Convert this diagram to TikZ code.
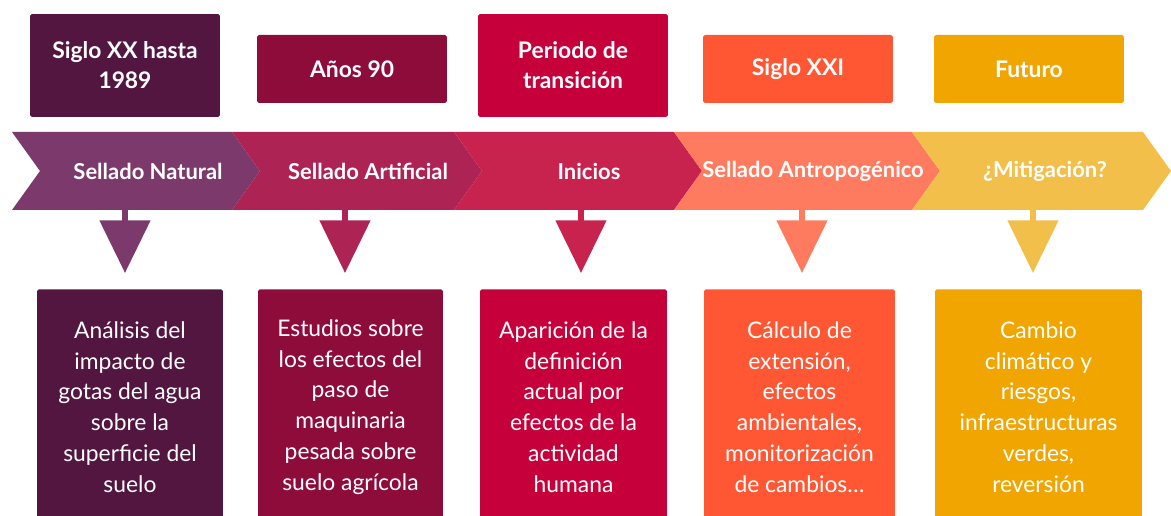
\documentclass[tikz,border=0pt]{standalone}
\usepackage{fontspec}
\setmainfont{Lato}
\usepackage{xcolor}
\usetikzlibrary{arrows.meta}
\definecolor{darkA}{HTML}{521641}
\definecolor{darkB}{HTML}{8E0C3A}
\definecolor{darkC}{HTML}{C5003A}
\definecolor{darkD}{HTML}{FF5733}
\definecolor{darkE}{HTML}{F0A500}
\definecolor{lightA}{HTML}{7B3A6B}
\definecolor{lightB}{HTML}{AD2354}
\definecolor{lightC}{HTML}{C8234F}
\definecolor{lightD}{HTML}{FF7B5F}
\definecolor{lightE}{HTML}{F2BF4B}
\tikzset{
    period/.style={rectangle, rounded corners=1pt, text=white, align=center, inner sep=0pt, minimum width=3.8cm, minimum height=1.36cm, font=\bfseries\fontsize{13}{17}\selectfont},
    longperiod/.style={period, minimum height=2.06cm},
    stage/.style={rectangle, text=white, inner sep=0pt, minimum height=1.56cm, font=\bfseries\fontsize{12.5}{15}\selectfont},
    detail/.style={rectangle, rounded corners=1pt, anchor=north, text=white, align=center, inner sep=0pt, minimum height=4.7cm, font=\fontsize{13}{17.5}\selectfont},
    pointer/.style={line width=3.4pt, -{Triangle[length=30pt, width=28.3pt]}},
}

\begin{document}
\begin{tikzpicture}[x=0.02cm, y=-0.02cm]
\useasboundingbox (0,0) rectangle (1171,516);

% Period boxes
\node[longperiod, fill=darkA] (siglo20) at (125, 65.5) {Siglo XX hasta\\1989};
\node[period, fill=darkB] (anos90) at (352, 69) {Años 90};
\node[longperiod, fill=darkC] (transicion) at (573, 65.5) {Periodo de\\transición};
\node[period, fill=darkD] (siglo21) at (798, 69) {Siglo XXI};
\node[period, fill=darkE] (futuro) at (1029, 69) {Futuro};

% Band of chevrons
\fill[lightA] (12,132) -- (232,132) -- (260,171) -- (232,210) -- (12,210) -- (40,171) -- cycle;
\fill[lightB] (232,132) -- (454,132) -- (482,171) -- (454,210) -- (232,210) -- (260,171) -- cycle;
\fill[lightC] (454,132) -- (674,132) -- (702,171) -- (674,210) -- (454,210) -- (482,171) -- cycle;
\fill[lightD] (674,132) -- (912,132) -- (940,171) -- (912,210) -- (674,210) -- (702,171) -- cycle;
\fill[lightE] (912,132) -- (1143,132) -- (1171,171) -- (1143,210) -- (912,210) -- (940,171) -- cycle;

\node[stage] (natural) at (148, 171) {Sellado Natural};
\node[stage] (artificial) at (368, 171) {Sellado Artificial};
\node[stage] (inicios) at (589, 171) {Inicios};
\node[stage] (antropo) at (813, 171) {Sellado Antropogénico};
\node[stage] (mitigacion) at (1045, 171) {¿Mitigación?};

% Pointers
\coordinate (tipA) at (125, 273);
\coordinate (tipB) at (345, 273);
\coordinate (tipC) at (581, 273);
\coordinate (tipD) at (802, 273);
\coordinate (tipE) at (1033, 273);
\draw[pointer, lightA] (natural.south -| tipA) -- (tipA);
\draw[pointer, lightB] (artificial.south -| tipB) -- (tipB);
\draw[pointer, lightC] (inicios.south -| tipC) -- (tipC);
\draw[pointer, lightD] (antropo.south -| tipD) -- (tipD);
\draw[pointer, lightE] (mitigacion.south -| tipE) -- (tipE);

% Detail boxes
\node[detail, fill=darkA, minimum width=3.72cm] (impacto) at (130, 289) {Análisis del\\impacto de\\gotas del agua\\sobre la\\superficie del\\suelo};
\node[detail, fill=darkB, minimum width=3.7cm] (maquinaria) at (350.5, 289) {Estudios sobre\\los efectos del\\paso de\\maquinaria\\pesada sobre\\suelo agrícola};
\node[detail, fill=darkC, minimum width=3.74cm] (definicion) at (573.5, 289) {Aparición de la\\definición\\actual por\\efectos de la\\actividad\\humana};
\node[detail, fill=darkD, minimum width=3.82cm] (calculo) at (799.5, 289) {Cálculo de\\extensión,\\efectos\\ambientales,\\monitorización\\de cambios\dots};
\node[detail, fill=darkE, minimum width=4.14cm] (cambio) at (1038.5, 289) {Cambio\\climático y\\riesgos,\\infraestructuras\\verdes,\\reversión};

\end{tikzpicture}
\end{document}
